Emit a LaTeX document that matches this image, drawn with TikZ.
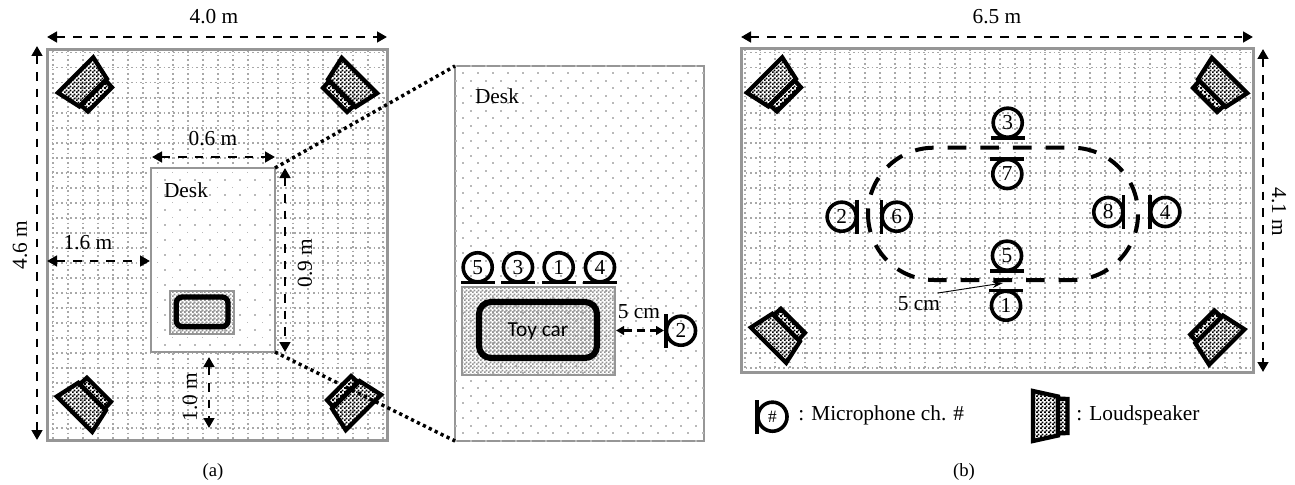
\documentclass[tikz,border=0pt]{standalone}
\usepackage{fontspec}
\setmainfont{Liberation Serif}
\newfontfamily\toyfont{Carlito}
\usetikzlibrary{arrows.meta,patterns,calc}
\pgfdeclarepatternformonly{chk}{\pgfpointorigin}{\pgfqpoint{3pt}{3pt}}{\pgfqpoint{3pt}{3pt}}{%
  \pgfpathrectangle{\pgfpointorigin}{\pgfqpoint{1.6pt}{1.6pt}}%
  \pgfpathrectangle{\pgfqpoint{1.5pt}{1.5pt}}{\pgfqpoint{1.6pt}{1.6pt}}%
  \pgfusepath{fill}}
\definecolor{frameg}{RGB}{150,150,150}
\definecolor{gridg}{RGB}{168,168,168}
\definecolor{dotg}{RGB}{185,185,185}
\tikzset{
  roomframe/.style={draw=frameg,line width=2.25pt},
  deskframe/.style={draw=frameg,line width=1.5pt,fill=white},
  gridline/.style={draw=gridg,line width=1.2pt,dash pattern=on 1.2pt off 2.3pt},
  txt/.style={font=\fontsize{16pt}{18pt}\selectfont,inner sep=0pt},
  captxt/.style={font=\fontsize{14pt}{16pt}\selectfont,inner sep=0pt},
  dimarrow/.style={line width=2.1pt,dash pattern=on 6.5pt off 6pt,{Triangle[length=7.5pt,width=8pt]}-{Triangle[length=7.5pt,width=8pt]}},
  zoomline/.style={line width=2.6pt,dash pattern=on 2.4pt off 2.55pt},
  thinarrow/.style={line width=0.7pt,-{Stealth[length=8pt,width=5pt]}},
  loopline/.style={line width=3pt,dash pattern=on 14pt off 10.5pt,rounded corners=49.5pt},
  micnode/.style={circle,draw=black,line width=2.7pt,minimum size=21.8pt,inner sep=0pt,font=\fontsize{16pt}{18pt}\selectfont},
  micbar/.style={line width=2.9pt},
  spk/.style={draw=black,line width=3.2pt,line join=miter,pattern=chk,pattern color=black},
  carbase/.style={draw=frameg,line width=1.5pt,pattern=chk,pattern color=gray!85},
  carbody/.style={draw=black,line cap=round,pattern=chk,pattern color=gray!85}
}
\newcommand{\mymic}[5]{%
  \node[micnode] (#1) at (#2,#3) {#4};
  \begin{scope}[shift={(#2,#3)},rotate=#5]
    \draw[micbar] (15.2,-17) -- (15.2,17);
  \end{scope}}
\newcommand{\myspk}[3]{%
  \begin{scope}[shift={(#1,#2)},rotate=#3]
    \draw[spk] (13,-17.5) -- (22.5,-17) -- (22.5,17) -- (13,17.5) -- cycle;
    \draw[spk] (-12,-25) -- (13,-19.5) -- (13,19.5) -- (-12,25) -- cycle;
  \end{scope}}
\begin{document}
\begin{tikzpicture}[x=0.75pt,y=-0.75pt]
\useasboundingbox (0,0) rectangle (1295,485);
% named corners
\coordinate (aTL) at (47,50); \coordinate (aBR) at (387,440);
\coordinate (bTL) at (741,49); \coordinate (bBR) at (1253,372);
\coordinate (dTL) at (151,168); \coordinate (dBR) at (275,352);
\coordinate (dTR) at (275,168); \coordinate (dBL) at (151,352);
\coordinate (zTL) at (455,66); \coordinate (zBL) at (455,441); \coordinate (zBR) at (704,441);
% room a
\fill[white] (aTL) rectangle (aBR);
\begin{scope}
  \clip (aTL) rectangle (aBR);
  \foreach \x in {0,...,22} \draw[gridline] (52.7+15*\x,50) -- (52.7+15*\x,440);
  \foreach \y in {0,...,25} \draw[gridline] (47,52.7+15*\y) -- (387,52.7+15*\y);
\end{scope}
\draw[roomframe] (aTL) rectangle (aBR);
% desk a
\draw[deskframe] (dTL) rectangle (dBR);
\begin{scope}
  \clip (dTL) rectangle (dBR);
  \foreach \r in {-16,...,12} {
    \pgfmathsetmacro{\off}{mod(\r+32,2)*7.5}
    \foreach \c in {-2,...,8}
      \fill[dotg] ({165+\c*15+\off-0.9},{285+\r*7.5-0.9}) rectangle +(1.8,1.8);
  }
\end{scope}
\draw[carbase] (169.5,291) rectangle (233.5,333.5);
\draw[carbody,line width=4pt,rounded corners=4.5pt] (176.3,297) rectangle (228,326.7);
% zoomed desk
\draw[deskframe] (zTL) rectangle (zBR);
\begin{scope}
  \clip (zTL) rectangle (zBR);
  \foreach \r in {-23,...,28} {
    \pgfmathsetmacro{\off}{mod(\r+46,2)*7.5}
    \foreach \c in {-12,...,6}
      \fill[dotg] ({628.3+\c*15+\off-0.9},{238.3+\r*7.5-0.9}) rectangle +(1.8,1.8);
  }
\end{scope}
\draw[carbase] (462,287) rectangle (615,374.5);
\draw[carbody,line width=4.6pt,rounded corners=9pt] (479,302) rectangle (597,358);
\node[txt,font=\toyfont\fontsize{16pt}{18pt}\selectfont] (toy) at (538,331) {Toy car};
% room b
\fill[white] (bTL) rectangle (bBR);
\begin{scope}
  \clip (bTL) rectangle (bBR);
  \foreach \x in {0,...,34} \draw[gridline] (745+15*\x,49) -- (745+15*\x,372);
  \foreach \y in {0,...,21} \draw[gridline] (741,52.7+15*\y) -- (1253,52.7+15*\y);
\end{scope}
\draw[roomframe] (bTL) rectangle (bBR);
% loudspeakers
\myspk{84}{83.5}{-45}
\myspk{351}{84}{-135}
\myspk{83}{405.7}{45}
\myspk{355}{404}{135}
\myspk{773}{83.5}{-45}
\myspk{1221}{84}{-135}
\myspk{777}{336.7}{45}
\myspk{1218.3}{338.5}{135}
\myspk{1045}{416}{0}
% loop
\draw[loopline] (868,147.7) rectangle (1138,280);
% mics in a
\mymic{ma5}{477.7}{267.3}{5}{-90}
\mymic{ma3}{518}{267.3}{3}{-90}
\mymic{ma1}{558.7}{267.3}{1}{-90}
\mymic{ma4}{600}{267.3}{4}{-90}
\mymic{ma2}{681}{330.7}{2}{180}
% mics in b
\mymic{mb3}{1007.7}{122.7}{3}{-90}
\mymic{mb7}{1007.3}{174}{7}{90}
\mymic{mb5}{1007}{255.7}{5}{-90}
\mymic{mb1}{1006}{305.7}{1}{90}
\mymic{mb2}{841.7}{216.7}{2}{0}
\mymic{mb6}{896.7}{216.7}{6}{180}
\mymic{mb8}{1108.3}{212}{8}{0}
\mymic{mb4}{1165.3}{212}{4}{180}
% legend mic
\mymic{mleg}{772.5}{416.7}{\fontsize{13pt}{15pt}\selectfont\#}{180}
% dimension arrows
\coordinate (a1) at (47,37); \coordinate (a2) at (387,37);
\draw[dimarrow] (a1) -- (a2);
\coordinate (a3) at (37,46); \coordinate (a4) at (37,440);
\draw[dimarrow] (a3) -- (a4);
\coordinate (a5) at (152,157); \coordinate (a6) at (275,157);
\draw[dimarrow] (a5) -- (a6);
\coordinate (a7) at (47,261); \coordinate (a8) at (150,261);
\draw[dimarrow] (a7) -- (a8);
\coordinate (a9) at (285,168); \coordinate (a10) at (285,352);
\draw[dimarrow] (a9) -- (a10);
\coordinate (a11) at (209,357); \coordinate (a12) at (209,428);
\draw[dimarrow] (a11) -- (a12);
\coordinate (a13) at (616,330.5); \coordinate (a14) at (664,330.5);
\draw[dimarrow,line width=1.6pt,dash pattern=on 6pt off 4pt,{Triangle[length=6pt,width=6.5pt]}-{Triangle[length=6pt,width=6.5pt]}] (a13) -- (a14);
\coordinate (b1) at (741,37); \coordinate (b2) at (1253,37);
\draw[dimarrow] (b1) -- (b2);
\coordinate (b3) at (1263,49); \coordinate (b4) at (1263,372);
\draw[dimarrow] (b3) -- (b4);
% zoom lines
\draw[zoomline] (dTR) -- (zTL);
\draw[zoomline] (dBR) -- (zBL);
% thin arrow
\coordinate (ta) at (938,293); \coordinate (tb) at (1003,283);
\draw[thinarrow] (ta) -- (tb);
% labels
\node[txt] (l40) at (214,17) {4.0 m};
\node[txt,rotate=90] (l46) at (20,245) {4.6 m};
\node[txt] (l06) at (213,139) {0.6 m};
\node[txt] (l16) at (88,243) {1.6 m};
\node[txt,rotate=90] (l09) at (305,263) {0.9 m};
\node[txt,rotate=90] (l10) at (190,397) {1.0 m};
\node[txt] (ldesk1) at (186,190) {Desk};
\node[txt] (ldesk2) at (497,96) {Desk};
\node[txt] (l5a) at (639,312) {5 cm};
\node[txt] (l65) at (997,17) {6.5 m};
\node[txt,rotate=-90] (l41) at (1279,212) {4.1 m};
\node[txt] (l5b) at (919,304) {5 cm};
\node[txt,anchor=west] (lmic) at (798,415) {: Microphone ch. \#};
\node[txt,anchor=west] (lspk) at (1076,415) {: Loudspeaker};
\node[captxt] (capa) at (213,472) {(a)};
\node[captxt] (capb) at (964,472) {(b)};
\end{tikzpicture}
\end{document}
